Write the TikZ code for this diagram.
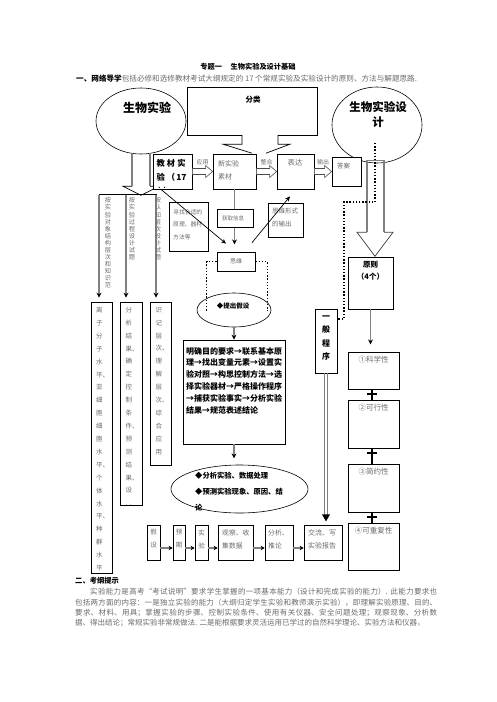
\documentclass[tikz,border=0pt]{standalone}
\usepackage{fontspec}
\setmainfont{Noto Sans CJK SC}
\usetikzlibrary{shapes.geometric,arrows.meta,calc}
\XeTeXlinebreaklocale "zh"
\XeTeXlinebreakskip=0pt plus 1pt
\definecolor{tg}{gray}{0.42}
\newcommand\fz[2]{\fontsize{#1}{#2}\selectfont}
\newcommand\mkbox[4]{\node[bx, minimum width=#3pt, minimum height=#4pt] (#1) at (#2) {};}
\newcommand\harr[2]{\draw[hollowarr] ([yshift=3pt]#1.east) -- ([xshift=-7pt,yshift=3pt]#2.west) -- ([xshift=-7pt,yshift=6pt]#2.west) -- (#2.west) -- ([xshift=-7pt,yshift=-6pt]#2.west) -- ([xshift=-7pt,yshift=-3pt]#2.west) -- ([yshift=-3pt]#1.east) -- cycle;}
\tikzset{
 bx/.style={draw, line width=0.75pt, fill=white, inner sep=0pt},
 el/.style={draw, ellipse, line width=0.6pt, inner sep=0pt},
 gt/.style={text=tg, inner sep=0pt},
 tx/.style={inner sep=0pt},
 garr/.style={draw=gray, line width=1.5pt, -{Stealth[color=black,length=5pt,width=5pt]}},
 sarr/.style={draw=gray, line width=1.2pt, -{Stealth[color=black,length=4pt,width=4.5pt]}},
 barr/.style={draw=black, line width=0.7pt, -{Stealth[length=5pt,width=4.5pt]}},
 dotl/.style={line width=1.4pt, dash pattern=on 1.4pt off 1.8pt},
 hollowarr/.style={draw=black!70, line width=0.6pt, fill=white},
}
\begin{document}
\begin{tikzpicture}[x=1pt,y=-1pt]
\useasboundingbox[fill=white] (0,0) rectangle (496,702);

% header
\node[tx, font=\fz{7.2}{8}\bfseries] (title) at (248,67) {专题一\hspace{1.2em}生物实验及设计基础};
\node[tx, anchor=west, font=\fz{7.6}{8}] (intro) at (76,79) {\textbf{一、网络导学}\textcolor{tg}{包括必修和选修教材考试大纲规定的 17 个常规实验及实验设计的原则、方法与解题思路.}};

% ellipses
\node[el, minimum width=90pt, minimum height=66pt] (e1) at (141,121) {};
\node[tx, font=\fz{12}{12}\bfseries] at (147,108) {生物实验};
\node[el, minimum width=90pt, minimum height=76pt] (e2) at (377,125) {};
\node[tx, font=\fz{11.5}{15}\bfseries, align=center] at (378,115) {生物实验设\\计};

% callout
\node[tx, minimum width=129pt, minimum height=47pt] (fl) at (252.5,111.5) {};
\draw[line width=0.7pt] ([xshift=-10.5pt]fl.south) -- (fl.south west) -- (fl.north west) -- (fl.north east) -- (fl.south east) -- ([xshift=25.5pt]fl.south);
\draw[line width=0.7pt] ([xshift=-10.5pt]fl.south) -- ++(0,9) -- ++(-19,0) -- ++(29,9);
\draw[line width=0.7pt] ([xshift=25.5pt]fl.south) -- ++(0,9) -- ++(12,0) -- ++(-24,9);
\node[tx, font=\fz{7.5}{8}\bfseries] at (253,100) {分类};

% big hollow arrows
\draw[gray, line width=1.5pt] ($(e1.south)+(-9,-1)$) -- ++(0,33);
\draw[gray, line width=1.5pt] ($(e1.south)+(9,-1)$) -- ++(0,33);
\coordinate (fork) at ($(e1.south)+(0,41)$);
\draw[line width=0.7pt] ($(e1.south)+(-9,32)$) -- ++(-9,0) -- (fork) -- ++(18,-9) -- ++(-9,0);
\draw[gray, line width=1.5pt] ($(e2.south)+(-10,69)$) -- ++(0,-72) -- ++(17,0) -- ++(0,72);
\draw[black!75, line width=0.7pt] ($(e2.south)+(-10,69)$) -- ++(-10,0) -- ($(e2.south)+(-2,93)$) -- ($(e2.south)+(16,69)$) -- ++(-9,0);

% top row
\mkbox{jc}{172.5,171.5}{39}{35}
\mkbox{xsc}{234.5,171.5}{43}{35}
\mkbox{bd}{295.5,171.5}{37}{35}
\mkbox{da}{346.5,171.5}{29}{29}
\node[tx, anchor=west, align=left, font=\fz{8.3}{14}\bfseries] at (156.5,170) {教\hspace{2pt}材\hspace{2pt}实\\验\hspace{2pt}（\hspace{1pt}17};
\node[tx, font=\fz{6}{6}\bfseries] at (162,187.5) {.\hspace{3pt}.};
\node[gt, anchor=north west, align=left, font=\fz{7}{13}] at (218,160.5) {新实验\\素材};
\node[gt, font=\fz{7.3}{8}] at (295,163) {表达};
\node[gt, font=\fz{6.5}{8}] at (343.5,166) {答案};
\harr{jc}{xsc}
\harr{xsc}{bd}
\harr{bd}{da}
\node[gt, font=\fz{6}{6}] at ($(jc.east)!0.5!(xsc.west)+(0,-9)$) {应用};
\node[gt, font=\fz{6}{6}] at ($(xsc.east)!0.5!(bd.west)+(0,-9)$) {整合};
\node[gt, font=\fz{6}{6}] at ($(bd.east)!0.5!(da.west)+(0,-9)$) {输出};

% left vertical boxes
\mkbox{v1}{101.5,437.5}{21}{271}
\mkbox{v2}{131,403.5}{22}{203}
\mkbox{v3}{160.5,383.5}{21}{163}
\draw[line width=0.7pt] ($(v1.north)+(-2.5,-107)$) -- ($(v3.north)+(-3.5,-107)$);
\draw[garr] ($(v1.north)+(-2.5,-107)$) -- ([xshift=-2.5pt,yshift=4pt]v1.north);
\draw[garr] ($(v2.north)+(-5,-107)$) -- ([xshift=-5pt,yshift=4pt]v2.north);
\draw[garr] ($(v3.north)+(-4.5,-107)$) -- ([xshift=-4.5pt,yshift=4pt]v3.north);
\node[gt, anchor=north, align=center, font=\fz{6.2}{7.05}] at (108,197.5) {按\\实\\验\\对\\象\\结\\构\\层\\次\\和\\知\\识\\范};
\node[gt, anchor=north, align=center, font=\fz{6.2}{7.05}] at (132,197.5) {按\\实\\验\\过\\程\\设\\计\\试\\题};
\node[gt, anchor=north, align=center, font=\fz{6.2}{7.05}] at (158,197.5) {按\\认\\知\\层\\次\\设\\计\\试\\题};
\node[gt, anchor=north west, align=left, font=\fz{6.5}{12.9}] at (96,306.8) {离\\子\\分\\子\\水\\平、\\亚\\细\\胞\\细\\胞\\水\\平、\\个\\体\\水\\平、\\种\\群\\水\\平};
\node[gt, anchor=north west, align=left, font=\fz{6.5}{12.9}] at (125.5,306.8) {分\\析\\结\\果、\\确\\定\\控\\制\\条\\件、\\预\\测\\结\\果、\\设\\.\hspace{2pt}.};
\node[gt, anchor=north west, align=left, font=\fz{6.5}{12.9}] at (155.5,306.8) {识\\记\\层\\次、\\理\\解\\层\\次、\\综\\合\\应\\用};

% middle
\draw[garr] (xsc.south) -- ++(0,55);
\mkbox{xz}{188.5,226.5}{39}{49}
\mkbox{hq}{235,218}{36}{18}
\mkbox{swf}{285.5,220}{35}{34}
\mkbox{sw}{236,261.5}{38}{19}
\node[gt, anchor=north west, align=left, font=\fz{5.8}{12.5}] at (173,209) {寻找合适的\\原理、器材\\方法等};
\node[gt, font=\fz{5.5}{6}] at (233,218) {获取信息};
\node[gt, anchor=north west, align=left, font=\fz{6.5}{13}] at (272,207.8) {思维形式\\的输出};
\node[gt, font=\fz{6}{6}] at (236,261) {思维};
\draw[barr] ([xshift=-11.5pt]jc.south) -- ([xshift=-10pt,yshift=8pt]sw.north);
\draw[barr] ([xshift=16pt,yshift=9pt]sw.north) -- ([xshift=-5.5pt,yshift=-7pt]bd.south);

\node[el, minimum width=74pt, minimum height=34pt] (ts) at (234,310) {};
\node[tx, font=\fz{6.5}{7}\bfseries] at (233,306) {◆提出假设};
\draw[dotl] (sw.west) -- ++(-10,0) -- ++(0,49);
\draw[dotl] (sw.east) -- ++(12,0) -- ++(0,49);

\mkbox{lc}{234,392}{102}{104}
\draw[garr] (ts.south) -- (lc.north);
\node[tx, anchor=north west, align=left, font=\fz{8}{11.8}\bfseries] at (186,347) {明确目的要求→联系基本原\\理→找出变量元素→设置实\\验对照→构思控制方法→选\\择实验器材→严格操作程序\\→捕获实验事实→分析实验\\结果→规范表述结论};
\draw[garr] (lc.south) -- ++(0,14);

\node[el, minimum width=137pt, minimum height=48pt] (fxe) at (239.5,489) {};
\node[tx, anchor=north west, align=left, font=\fz{7.3}{16}\bfseries] at (195,471.8) {◆分析实验、数据处理\\◆预测实验现象、原因、结\\论};

% bottom row
\mkbox{js}{153.5,542.5}{13}{35}
\mkbox{yq}{179,542.5}{12}{35}
\mkbox{sy}{201.5,542.5}{13}{35}
\mkbox{gc}{235.5,542.5}{35}{35}
\mkbox{fxb}{279,542.5}{28}{35}
\mkbox{jl}{323,542.5}{38}{35}
\foreach \a/\b in {js/yq, yq/sy, sy/gc, gc/fxb, fxb/jl}
  \draw[sarr] ([yshift=-5.5pt]\a.east) -- ([yshift=-5.5pt]\b.west);
\node[gt, anchor=north, align=center, font=\fz{6.5}{13}] at ($(js.north)+(0,4.7)$) {假\\设};
\node[gt, anchor=north, align=center, font=\fz{6.5}{13}] at ($(yq.north)+(0,4.7)$) {预\\期};
\node[gt, anchor=north, align=center, font=\fz{6.5}{13}] at ($(sy.north)+(0,4.7)$) {实\\验};
\node[gt, anchor=north west, align=left, font=\fz{6.8}{13}] at (222,529.6) {观察、收\\集数据};
\node[gt, anchor=north west, align=left, font=\fz{6.8}{13}] at (268,529.6) {分析、\\推论};
\node[gt, anchor=north west, align=left, font=\fz{7}{13}] at (308,529.6) {交流、写\\实验报告};

% right column
\mkbox{yb}{326,341}{22}{64}
\mkbox{yz}{370.5,283}{45}{52}
\mkbox{kx}{373.5,370.5}{51}{37}
\mkbox{kxx}{373.5,424}{51}{48}
\mkbox{jy}{373.5,488}{51}{48}
\mkbox{kcf}{373.5,546.5}{51}{47}
\node[tx, font=\fz{8}{13.3}\bfseries, align=center] at (326,338) {一\\般\\程\\序};
\node[tx, font=\fz{7.5}{12}\bfseries, align=center] at (370.5,271) {原则\\（4个）};
\node[gt, font=\fz{7.5}{8}] at ($(kx.north)+(0,8)$) {①科学性};
\node[gt, font=\fz{7.5}{8}] at ($(kxx.north)+(0,8)$) {②可行性};
\node[gt, font=\fz{7.5}{8}] at ($(jy.north)+(0,8)$) {③简约性};
\node[gt, font=\fz{7.5}{8}] at ($(kcf.north)+(0,8)$) {④可重复性};
\draw[garr] (yz.south) -- ++(0,35);
\foreach \a/\b in {kx/kxx, kxx/jy, jy/kcf}{
  \draw[line width=2pt] ([xshift=-1.5pt]\a.south) -- ([xshift=-1.5pt]\b.north);
  \draw[line width=2pt] ([xshift=-6.5pt,yshift=-5pt]\a.south) -- ++(10,0);
}
\draw[gray, line width=1pt] ([xshift=-1.6pt]yb.south) -- ++(0,142);
\draw[gray, line width=1pt] ([xshift=1.6pt]yb.south) -- ++(0,142);
\fill ($(yb.south)+(-4,141)$) -- ++(8,0) -- ++(-4,7) -- cycle;
\draw[dotl] ($(e2.center)+(-2,18)$) -- ++(0,59) -- ++(-31,0) |- ([yshift=22pt]yb.east);

% section two
\node[tx, anchor=west, font=\fz{7.3}{8}\bfseries] (sec2) at (75,581) {二、考纲提示};
\node[tx, anchor=north west, text width=362pt, align=justify, text=tg, font=\fz{7.5}{10.3}] (para) at (75,588.2) {\parfillskip=0pt\hspace*{15pt}实验能力是高考“考试说明”要求学生掌握的一项基本能力（设计和完成实验的能力）. 此能力要求也\linebreak 包括两方面的内容：一是独立实验的能力（大纲归定学生实验和教师演示实验），即理解实验原理、目的、\linebreak 要求、材料、用具；掌握实验的步骤、控制实验条件、使用有关仪器、安全问题处理；观察现象、分析数\linebreak 据、得出结论；常规实验非常规做法. 二是能根据要求灵活运用已学过的自然科学理论、实验方法和仪器，};
\end{tikzpicture}
\end{document}
